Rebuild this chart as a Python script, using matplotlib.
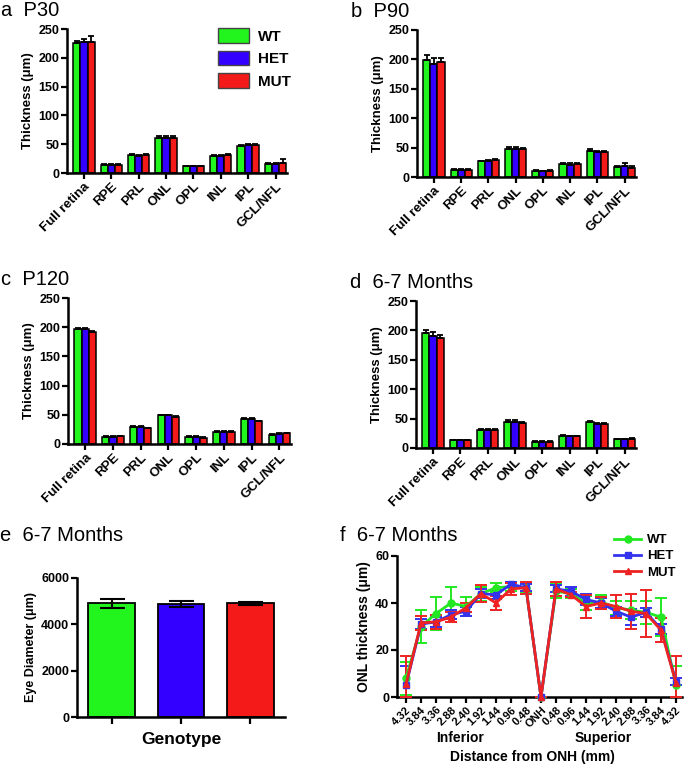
import numpy as np
import matplotlib
matplotlib.use("Agg")
import matplotlib.pyplot as plt
from matplotlib.lines import Line2D
from matplotlib.patches import Patch

plt.rcParams['font.family'] = ['Liberation Sans', 'DejaVu Sans']

layers = ['Full retina', 'RPE', 'PRL', 'ONL', 'OPL', 'INL', 'IPL', 'GCL/NFL']
groups = ['WT', 'HET', 'MUT']

# Panel a: P30
p30_wt = [226, 14, 31, 61, 12, 30, 47, 16]
p30_het = [227, 14, 29, 61, 12, 30, 48, 16]
p30_mut = [227, 14, 31, 61, 12, 31, 48, 18]
p30_wt_err = [4, 1, 2, 3, 1, 2, 2, 2]
p30_het_err = [5, 1, 2, 4, 1, 2, 2, 2]
p30_mut_err = [10, 1, 2, 3, 1, 2, 2, 6]

# Panel b: P90
p90_wt = [199, 12, 27, 48, 11, 22, 45, 17]
p90_het = [193, 12, 27, 48, 10, 21, 42, 18]
p90_mut = [196, 12, 29, 47, 11, 22, 42, 16]
p90_wt_err = [8, 1, 1, 3, 1, 2, 2, 2]
p90_het_err = [10, 1, 2, 3, 1, 2, 2, 6]
p90_mut_err = [7, 1, 2, 2, 1, 2, 2, 2]

# Panel c: P120
p120_wt = [197, 12, 29, 49, 12, 21, 43, 16]
p120_het = [197, 12, 29, 49, 12, 21, 43, 17]
p120_mut = [191, 13, 27, 47, 11, 21, 39, 18]
p120_wt_err = [2, 1, 1, 1, 1, 1, 1, 1]
p120_het_err = [2, 1, 1, 1, 1, 1, 1, 1]
p120_mut_err = [2, 1, 1, 1, 1, 1, 1, 1]

# Panel d: 6-7 months
m6_wt = [195, 13, 31, 45, 11, 21, 44, 15]
m6_het = [190, 13, 31, 45, 11, 20, 41, 15]
m6_mut = [187, 13, 30, 42, 11, 20, 40, 16]
m6_wt_err = [6, 1, 2, 2, 1, 1, 2, 1]
m6_het_err = [7, 1, 2, 2, 1, 1, 2, 1]
m6_mut_err = [6, 1, 2, 2, 1, 1, 2, 1]

# Panel e: eye diameter
eye_mean = [4916, 4887, 4900]
eye_err = [190, 130, 70]

# Panel f: ONL spider plot
pos_labels = ['4.32', '3.84', '3.36', '2.88', '2.40', '1.92', '1.44', '0.96', '0.48', 'ONH',
              '0.48', '0.96', '1.44', '1.92', '2.40', '2.88', '3.36', '3.84', '4.32']
onl_wt = [8, 30, 35.5, 40, 38.5, 44, 46.5, 47, 46.5, 0, 45, 44, 40, 40.5, 38, 37, 36, 34, 5]
onl_wt_err = [7, 7, 7, 7, 4, 3, 2, 2, 2, 0, 3, 2, 3, 3, 3, 4, 5, 8, 8]
onl_het = [5, 31, 32, 35, 36.5, 44, 43.5, 48, 46.5, 0, 46, 45, 41.5, 40, 36.5, 34, 36, 29, 6.5]
onl_het_err = [8, 2, 2, 2, 2, 2, 2, 1, 1.5, 0, 1.5, 2, 2.5, 2, 2, 3.5, 2, 2, 1.5]
onl_mut = [5.5, 31.5, 32, 34, 38, 44, 40, 46, 46.5, 0, 46, 43.5, 38.5, 40, 38.5, 36.5, 35.5, 28.5, 6]
onl_mut_err = [12, 3, 3, 2, 2, 3.5, 3, 2.5, 2.5, 0, 3, 1, 5, 2.5, 5, 7.5, 10, 5, 11.5]

bar_colors = ['#22F51E', '#3300FF', '#F41A1A']
line_colors = ['#22E822', '#3333EE', '#EE2222']

W, H = 684, 766
fig = plt.figure(figsize=(W / 100, H / 100), dpi=100)


def ax_px(l, t, r, b):
    return fig.add_axes([l / W, 1 - b / H, (r - l) / W, (b - t) / H])


def style(ax, xsize=9.5):
    for s in ['top', 'right']:
        ax.spines[s].set_visible(False)
    for s in ['left', 'bottom']:
        ax.spines[s].set_linewidth(1.8)
    ax.tick_params(width=1.6, length=4, pad=1.5)
    ax.tick_params(axis='y', labelsize=9)
    ax.tick_params(axis='x', labelsize=xsize)
    for lab in ax.get_yticklabels() + ax.get_xticklabels():
        lab.set_fontweight('bold')


def bar_panel(ax, series, errs, title, legend=False):
    x = np.arange(len(layers))
    w = 0.26
    for i, (vals, e) in enumerate(zip(series, errs)):
        xi = x + (i - 1) * w
        ax.bar(xi, vals, w, color=bar_colors[i], edgecolor='black', linewidth=1.1, zorder=2)
        ax.errorbar(xi, vals, yerr=[np.zeros(len(e)), e], fmt='none', ecolor='black',
                    elinewidth=1.3, capsize=2.5, capthick=1.3, zorder=3)
    ax.set_xlim(-0.62, 7.42)
    ax.set_ylim(0, 250)
    ax.set_yticks([0, 50, 100, 150, 200, 250])
    ax.set_xticks(x)
    ax.set_xticklabels(layers, rotation=45, ha='right', rotation_mode='anchor')
    ax.set_ylabel('Thickness (μm)', fontsize=9.5, fontweight='bold', labelpad=3)
    style(ax)
    ax.text(-0.3, 1.06, title, transform=ax.transAxes, fontsize=14.5, ha='left', va='bottom')
    if legend:
        handles = [Patch(facecolor=c, edgecolor='#444444', linewidth=1.0) for c in bar_colors]
        ax.legend(handles, groups, loc='upper right', bbox_to_anchor=(1.08, 1.1),
                  frameon=False, handlelength=2.0, handleheight=1.1,
                  prop={'weight': 'bold', 'size': 11}, labelspacing=0.45, handletextpad=0.6)


axa = ax_px(67, 29, 287, 173)
bar_panel(axa, [p30_wt, p30_het, p30_mut], [p30_wt_err, p30_het_err, p30_mut_err], 'a  P30', legend=True)
axb = ax_px(417, 30, 636, 177)
bar_panel(axb, [p90_wt, p90_het, p90_mut], [p90_wt_err, p90_het_err, p90_mut_err], 'b  P90')
axc = ax_px(68, 298, 291, 444)
bar_panel(axc, [p120_wt, p120_het, p120_mut], [p120_wt_err, p120_het_err, p120_mut_err], 'c  P120')
axd = ax_px(416, 301, 636, 448)
bar_panel(axd, [m6_wt, m6_het, m6_mut], [m6_wt_err, m6_het_err, m6_mut_err], 'd  6-7 Months')

# Panel e
axe = ax_px(77, 578, 285, 717)
xe = np.arange(3)
axe.bar(xe, eye_mean, 0.67, color=bar_colors, edgecolor='black', linewidth=1.3, zorder=2)
axe.errorbar(xe, eye_mean, yerr=eye_err, fmt='none', ecolor='black', elinewidth=1.5,
             capsize=9, capthick=1.5, zorder=3)
axe.set_xlim(-0.5, 2.5)
axe.set_ylim(0, 6000)
axe.set_yticks([0, 2000, 4000, 6000])
axe.set_xticks(xe)
axe.set_xticklabels([])
axe.set_ylabel('Eye Diameter (μm)', fontsize=9, fontweight='bold', labelpad=3)
axe.set_xlabel('Genotype', fontsize=12.5, fontweight='bold', labelpad=4)
style(axe)
axe.tick_params(axis='x', length=5)
fig.text(0 / W, 1 - 545 / H, 'e  6-7 Months', fontsize=14.5, ha='left', va='bottom')

# Panel f
axf = ax_px(397, 556, 682, 697)
xf = np.arange(len(pos_labels))
markers = ['o', 's', '^']
for vals, e, c, m, lab in zip([onl_wt, onl_het, onl_mut], [onl_wt_err, onl_het_err, onl_mut_err],
                              line_colors, markers, groups):
    v = np.array(vals, dtype=float)
    e = np.array(e, dtype=float)
    lower = np.minimum(e, v)
    axf.errorbar(xf, v, yerr=[lower, e], color=c, marker=m, markersize=5, linewidth=2,
                 elinewidth=1.4, capsize=4, capthick=1.4, label=lab, clip_on=False, zorder=3)
axf.set_xlim(-0.6, 18.4)
axf.set_ylim(0, 60)
axf.set_yticks([0, 20, 40, 60])
axf.set_xticks(xf)
axf.set_xticklabels(pos_labels, rotation=45, ha='right', rotation_mode='anchor')
axf.set_ylabel('ONL thickness (μm)', fontsize=10, fontweight='bold', labelpad=3)
style(axf, xsize=8)
handles = [Line2D([0], [0], color=c, marker=m, markersize=5, linewidth=2) for c, m in zip(line_colors, markers)]
axf.legend(handles, groups, loc='upper right', bbox_to_anchor=(1.02, 1.24), frameon=False,
           prop={'weight': 'bold', 'size': 9.5}, handlelength=2.0, labelspacing=0.3, handletextpad=0.5)
fig.text(340 / W, 1 - 545 / H, 'f  6-7 Months', fontsize=14.5, ha='left', va='bottom')
fig.text(460 / W, 1 - 738 / H, 'Inferior', fontsize=10, fontweight='bold', ha='center', va='center')
fig.text(603 / W, 1 - 738 / H, 'Superior', fontsize=10, fontweight='bold', ha='center', va='center')
fig.text(532 / W, 1 - 757 / H, 'Distance from ONH (mm)', fontsize=10, fontweight='bold', ha='center', va='center')

fig.savefig('out.png', dpi=100)
